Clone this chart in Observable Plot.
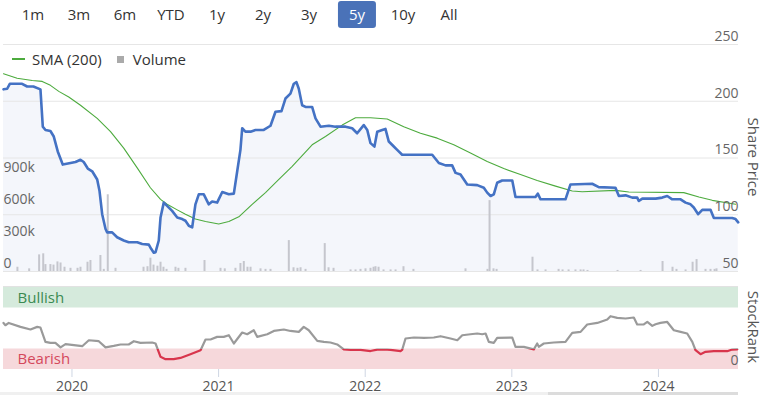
<!DOCTYPE html>
<html><head><meta charset="utf-8">
<script src="https://cdn.jsdelivr.net/npm/d3@7"></script>
<script src="https://cdn.jsdelivr.net/npm/@observablehq/plot@0.6"></script>
<style>
body{margin:0;background:#fff;font-family:"Open Sans",sans-serif;}
#wrap{position:relative;width:770px;height:395px;overflow:hidden;background:#fff;}
.layer{position:absolute;left:0;}
.btn{position:absolute;top:1px;height:27px;line-height:27px;font-size:15px;color:#333;text-align:center;transform:translateX(-50%);padding:0 11px;border-radius:3px;white-space:nowrap;}
.btn.sel{background:#4a72b8;color:#fff;}
.rot{position:absolute;transform:translate(-50%,-50%) rotate(90deg);white-space:nowrap;font-size:15px;color:#555;}
#legend{position:absolute;left:12px;top:49px;font-size:15px;color:#333;display:flex;align-items:center;white-space:nowrap;}
</style></head><body><div id="wrap"></div>
<script>
// ---------- data ----------
const ranges = ["1m","3m","6m","YTD","1y","2y","3y","5y","10y","All"];
const rangeCenters = [33,79,125,171,217,263,309,357,403,449];
const selectedRange = "5y";
const legendLabels = ["SMA (200)", "Volume"];

const priceDates = [2019.533,2019.558,2019.576,2019.660,2019.694,2019.737,2019.785,2019.801,2019.819,2019.853,2019.876,2019.903,2019.937,2019.990,2020.024,2020.058,2020.080,2020.108,2020.138,2020.172,2020.188,2020.206,2020.229,2020.240,2020.274,2020.308,2020.353,2020.387,2020.445,2020.479,2020.524,2020.540,2020.558,2020.570,2020.592,2020.604,2020.626,2020.649,2020.683,2020.718,2020.752,2020.774,2020.797,2020.820,2020.842,2020.865,2020.899,2020.933,2020.956,2020.990,2021.025,2021.070,2021.104,2021.127,2021.149,2021.161,2021.183,2021.218,2021.252,2021.308,2021.354,2021.388,2021.429,2021.456,2021.490,2021.513,2021.531,2021.547,2021.570,2021.593,2021.638,2021.661,2021.695,2021.752,2021.797,2021.866,2021.911,2021.945,2021.990,2022.014,2022.036,2022.063,2022.082,2022.116,2022.138,2022.161,2022.195,2022.218,2022.252,2022.457,2022.502,2022.548,2022.593,2022.616,2022.650,2022.696,2022.764,2022.809,2022.832,2022.855,2022.877,2022.900,2022.934,2023.003,2023.025,2023.161,2023.177,2023.196,2023.366,2023.400,2023.548,2023.593,2023.707,2023.730,2023.776,2023.821,2023.855,2023.866,2023.890,2023.981,2024.026,2024.060,2024.094,2024.151,2024.185,2024.219,2024.241,2024.271,2024.299,2024.355,2024.378,2024.503,2024.526,2024.544];
const priceValues = [210.5,211,215.4,215.4,213,213,210.5,177.6,174.7,173.8,168.9,155.8,144.2,145.6,146.5,148.5,146.5,140.7,138.3,131.1,120.9,100.5,87.4,84.5,84.5,80.2,77.3,75.8,75.8,74.3,73.7,70,66.5,67,77.3,97.6,110.7,107.8,103.4,97.6,96.2,94.7,90.3,88.9,109.2,118,118,109.2,111.7,110.7,120,118,118.6,138.3,157.2,176.2,173.2,173.2,174.7,174.7,178.4,190.7,191.3,202.4,206.7,215.4,216.8,211,196.5,195,195,184.9,177.6,178.4,177.6,177.6,176.2,171.8,179,174.7,163.1,160.1,173.2,174.7,175.6,164.5,160.1,157.2,152.9,152.9,145.6,143.5,143.5,136.9,135.4,126.7,126.1,123.8,119.5,116.5,118,128.2,130.2,130.2,115.6,115.6,118.6,113.6,113.6,126.7,127.3,124.3,123.8,116.5,117.1,115.1,115.1,112.1,114.2,114.2,115.1,116.5,113.6,113.6,110.7,109.2,106.4,100.5,104.3,104.3,97.1,97.1,96.2,93.3];

const smaDates = [2019.533,2019.626,2019.729,2019.797,2019.853,2019.910,2019.978,2020.058,2020.172,2020.263,2020.353,2020.445,2020.535,2020.604,2020.649,2020.718,2020.774,2020.842,2020.911,2021.001,2021.070,2021.138,2021.229,2021.320,2021.411,2021.502,2021.638,2021.729,2021.843,2021.934,2022.036,2022.150,2022.263,2022.377,2022.491,2022.604,2022.718,2022.832,2022.945,2023.059,2023.173,2023.298,2023.412,2023.480,2023.707,2023.798,2024.173,2024.276,2024.367,2024.526];
const smaValues = [224.2,220.3,218.3,217.5,214,208.7,203.8,196.5,184.9,173.2,158.7,141.3,123.8,113.6,109.2,104.3,100.5,96.2,94.1,91.8,94.1,98.2,109.2,119.5,131.1,142.7,161.6,168.9,179,185.4,185.4,184.3,177.6,171.8,167.5,161.6,154.4,147,140.7,135.4,130.2,125.2,120.9,120.3,121.5,120,119.5,115.6,112.7,109.2];

const volumeDates = [2019.628,2019.708,2019.776,2019.804,2019.819,2019.853,2019.874,2019.901,2019.922,2019.949,2019.990,2020.038,2020.058,2020.106,2020.126,2020.194,2020.217,2020.244,2020.297,2020.488,2020.515,2020.535,2020.556,2020.583,2020.604,2020.624,2020.645,2020.706,2020.726,2020.774,2020.904,2021.013,2021.042,2021.115,2021.149,2021.172,2021.197,2021.218,2021.286,2021.320,2021.354,2021.479,2021.511,2021.538,2021.559,2021.593,2021.724,2021.750,2021.784,2021.900,2021.934,2021.968,2022.002,2022.036,2022.057,2022.070,2022.091,2022.125,2022.173,2022.207,2022.261,2022.329,2022.684,2022.834,2022.848,2022.875,2022.896,2023.141,2023.175,2023.230,2023.319,2023.346,2023.387,2023.434,2023.469,2023.489,2023.516,2023.721,2023.878,2024.028,2024.096,2024.123,2024.185,2024.233,2024.260,2024.321,2024.355,2024.383,2024.396];
const volumeValues = [40000,25000,156000,166000,65000,65000,60000,90000,80000,40000,30000,30000,40000,87000,103000,150000,20000,720000,30000,40000,45000,125000,60000,50000,87000,40000,20000,40000,30000,30000,103000,30000,25000,30000,75000,94000,40000,40000,25000,20000,20000,290000,35000,30000,35000,20000,262000,35000,30000,15000,15000,20000,25000,30000,40000,45000,40000,15000,15000,15000,45000,20000,25000,20000,665000,25000,20000,134000,15000,15000,20000,15000,15000,15000,15000,15000,10000,10000,10000,94000,40000,20000,15000,87000,112000,20000,20000,20000,25000];

const rankDates = [2019.533,2019.546,2019.569,2019.649,2019.717,2019.763,2019.785,2019.819,2019.853,2019.887,2019.922,2019.956,2020.070,2020.115,2020.183,2020.229,2020.285,2020.331,2020.387,2020.422,2020.467,2020.547,2020.570,2020.604,2020.638,2020.694,2020.740,2020.808,2020.877,2020.911,2020.945,2020.990,2021.035,2021.070,2021.104,2021.161,2021.195,2021.240,2021.263,2021.332,2021.377,2021.445,2021.490,2021.547,2021.581,2021.615,2021.673,2021.718,2021.763,2021.809,2021.854,2021.900,2021.968,2022.036,2022.082,2022.150,2022.173,2022.241,2022.252,2022.275,2022.332,2022.400,2022.468,2022.514,2022.582,2022.628,2022.662,2022.718,2022.764,2022.798,2022.821,2022.843,2022.877,2022.900,2023.003,2023.025,2023.082,2023.150,2023.173,2023.184,2023.218,2023.286,2023.366,2023.412,2023.469,2023.514,2023.583,2023.651,2023.673,2023.719,2023.776,2023.832,2023.855,2023.900,2023.924,2023.958,2023.980,2024.014,2024.060,2024.105,2024.151,2024.196,2024.231,2024.253,2024.287,2024.321,2024.378,2024.469,2024.503,2024.538];
const rankValues = [56.8,54,56.8,52,48.8,52,51.2,33.7,32.4,32.4,27,30.9,28.4,35.7,34.5,27,28.8,30.5,30.5,34.5,32.4,32.9,31.7,15.4,12.6,12.6,14.1,18.7,23.5,36.6,36.6,39.8,39.8,41.8,31.7,45.1,43,47.9,39.8,43,47,48.8,47,45.9,52,47.9,34.9,33.7,32.9,30.5,24.5,24,24,22.5,24.3,24.3,24,22.5,24,37.8,39,38.5,39,40.6,37.8,35.7,41.8,43,43.9,43,43.9,33.7,32.4,38.5,39,27.6,27.6,24.6,31.7,27.6,31.7,32.9,33.7,44.6,45.9,54.9,56.8,61,65,62.9,62.2,63.4,54.9,54.9,58,53.2,55.2,56.8,58,47.9,45.9,43.9,33.7,23.5,18.7,21.5,22.3,22.3,24.3,24.6];

const yearTicks = [2020, 2021, 2022, 2023, 2024];
const priceTicks = [50, 100, 150, 200, 250];
const volumeTicks = [0, 300000, 600000, 900000];
const volumeTickLabels = ["0", "300k", "600k", "900k"];
const rankTicks = [0];
const bands = [
  {label: "Bullish", lo: 75, hi: 100, fill: "#d5eadc", text: "#3b8a52"},
  {label: "Bearish", lo: 0, hi: 25, fill: "#f6d8db", text: "#d4485c"}
];
const bearishThreshold = 25;

// ---------- build tables ----------
const price = priceDates.map((t, i) => ({t, v: priceValues[i]}));
const sma = smaDates.map((t, i) => ({t, v: smaValues[i]}));
const volume = volumeDates.map((t, i) => ({t, v: volumeValues[i]}));
const rank = rankDates.map((t, i) => ({t, v: rankValues[i]}));

const xDomain = [2019.533, 2024.546];
const W = 770;
const FONT = '"Open Sans", sans-serif';
const common = {
  width: W, marginLeft: 3, marginRight: 32,
  x: {domain: xDomain, axis: null, label: null},
  style: {background: "transparent", fontFamily: FONT, fontSize: "14px", overflow: "visible"}
};
const topBox = {height: 250, marginTop: 14, marginBottom: 9};

const wrap = document.getElementById("wrap");
function place(el, top) { el.classList.add("layer"); el.style.top = top + "px"; wrap.appendChild(el); }

// layer 1: area + grid
const p1 = Plot.plot({...common, ...topBox,
  y: {domain: [50, 250], axis: null},
  marks: [
    Plot.areaY(price, {x: "t", y1: 50, y2: "v", fill: "#f4f6fb"}),
    Plot.ruleY(priceTicks, {stroke: "#e6e6e6", strokeWidth: 1})
  ]});
place(p1, 30);

// layer 2: volume
const p2 = Plot.plot({...common, ...topBox,
  y: {domain: [0, 2130000], axis: null},
  marks: [
    Plot.ruleX(volume, {x: "t", y1: 0, y2: "v", stroke: "#c5c6cd", strokeWidth: 2}),
    Plot.text(volumeTicks, {y: d => d, text: (d, i) => volumeTickLabels[i], frameAnchor: "left", textAnchor: "start", dy: -8, fill: "#666", fontSize: 14})
  ]});
place(p2, 30);

// layer 3: lines + price labels
const p3 = Plot.plot({...common, ...topBox,
  y: {domain: [50, 250], axis: null},
  marks: [
    Plot.line(sma, {x: "t", y: "v", stroke: "#4dab3e", strokeWidth: 1.1}),
    Plot.line(price, {x: "t", y: "v", stroke: "#4472c4", strokeWidth: 2.6, strokeLinejoin: "round"}),
    Plot.text(priceTicks, {y: d => d, text: d => String(d), frameAnchor: "right", textAnchor: "end", dy: -8, fill: "#666", fontSize: 14})
  ]});
place(p3, 30);

// bottom panel
const p4 = Plot.plot({...common, height: 115, marginTop: 7, marginBottom: 26,
  y: {domain: [0, 100], axis: null},
  marks: [
    Plot.ruleY([100], {stroke: "#e2e2e2", dy: -1}),
    Plot.rect(bands, {x1: xDomain[0], x2: xDomain[1], y1: "lo", y2: "hi", fill: "fill"}),
    Plot.text(bands, {y: d => (d.lo + d.hi) / 2, text: "label", frameAnchor: "left", textAnchor: "start", dx: 14, fill: "text", fontSize: 15}),
    Plot.line(rank, {x: "t", y: "v", stroke: "url(#rankGrad)", strokeWidth: 2.2, strokeLinejoin: "round"}),
    Plot.text(rankTicks, {y: d => d, text: d => String(d), frameAnchor: "right", textAnchor: "end", dy: -9, fill: "#666", fontSize: 14}),
    Plot.axisX(yearTicks, {tickFormat: d => String(d), tickSize: 8, tickPadding: 4, stroke: "#cfd6e3", fill: "#555", fontSize: 14, label: null})
  ]});
place(p4, 280);
// threshold gradient using the plot's y scale
(function() {
  const ns = "http://www.w3.org/2000/svg";
  const yPix = p4.scale("y").apply(bearishThreshold);
  const defs = document.createElementNS(ns, "defs");
  const g = document.createElementNS(ns, "linearGradient");
  g.setAttribute("id", "rankGrad");
  g.setAttribute("gradientUnits", "userSpaceOnUse");
  g.setAttribute("x1", 0); g.setAttribute("x2", 0);
  g.setAttribute("y1", 0); g.setAttribute("y2", 115);
  const o = yPix / 115;
  [[0, "#9a9a9a"], [o, "#9a9a9a"], [o, "#d8354c"], [1, "#d8354c"]].forEach(([off, c]) => {
    const s = document.createElementNS(ns, "stop");
    s.setAttribute("offset", off); s.setAttribute("stop-color", c);
    g.appendChild(s);
  });
  defs.appendChild(g);
  p4.insertBefore(defs, p4.firstChild);
})();

// range buttons
ranges.forEach((r, i) => {
  const b = document.createElement("div");
  b.className = "btn" + (r === selectedRange ? " sel" : "");
  b.textContent = r;
  b.style.left = rangeCenters[i] + "px";
  wrap.appendChild(b);
});

// legend
const lg = document.createElement("div");
lg.id = "legend";
lg.innerHTML = `<span style="display:inline-block;width:13px;height:1.2px;background:#4dab3e;margin-right:7px"></span><span>${legendLabels[0]}</span>` +
  `<span style="display:inline-block;width:7px;height:7px;background:#aaa;margin:0 9px 0 15px"></span><span>${legendLabels[1]}</span>`;
wrap.appendChild(lg);

// axis titles
const t1 = document.createElement("div"); t1.className = "rot"; t1.textContent = "Share Price";
t1.style.left = "754px"; t1.style.top = "157px"; wrap.appendChild(t1);
const t2 = document.createElement("div"); t2.className = "rot"; t2.textContent = "StockRank";
t2.style.left = "754px"; t2.style.top = "327px"; wrap.appendChild(t2);

// navigator hint
const nav = document.createElement("div");
nav.style.cssText = "position:absolute;left:0;top:392px;width:738px;height:3px;background:#f0f0f0;";
wrap.appendChild(nav);
const nav2 = document.createElement("div");
nav2.style.cssText = "position:absolute;left:548px;top:392px;width:190px;height:3px;background:#dcdcdc;";
wrap.appendChild(nav2);
</script></body></html>
